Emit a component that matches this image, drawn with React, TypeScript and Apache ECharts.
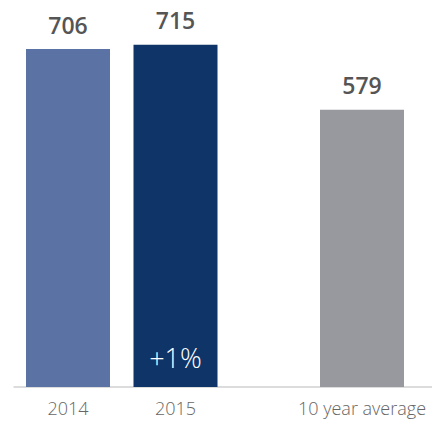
import React, { useEffect, useRef } from "react";
import * as echarts from "echarts";

const categories = ["2014", "2015", "10 year average"];
const values = [706, 715, 579];
const changeLabels = ["", "+1%", ""];
const barColors = ["#5a73a4", "#0e3468", "#98999e"];

export default function App() {
  const ref = useRef<HTMLDivElement>(null);
  useEffect(() => {
    if (!ref.current) return;
    const chart = echarts.init(ref.current, undefined, { renderer: "svg" });
    const font = "'Open Sans', 'Noto Sans', sans-serif";
    const leftCats = [categories[0], categories[1], ""];
    const leftVals = [values[0], values[1], "-"];
    const leftChange = [
      changeLabels[0] ? values[0] : "-",
      changeLabels[1] ? values[1] : "-",
      "-",
    ];
    const axisCommon = {
      type: "category" as const,
      axisLine: { lineStyle: { color: "#dcdcdc", width: 2 } },
      axisTick: { show: false },
      axisLabel: {
        color: "#666",
        fontSize: 18,
        fontWeight: 300,
        fontFamily: font,
        margin: 12,
      },
    };
    const yCommon = {
      type: "value" as const,
      min: 0,
      max: 800,
      show: false,
      splitLine: { show: false },
    };
    const topLabel = {
      show: true,
      position: "top" as const,
      distance: 13,
      color: "#555",
      fontSize: 23,
      fontWeight: 600,
      fontFamily: font,
    };
    chart.setOption({
      animation: false,
      grid: [
        { left: 14.25, width: 322.5, top: 4, bottom: 37 },
        { left: 292, right: 0, top: 4, bottom: 37 },
      ],
      xAxis: [
        { ...axisCommon, gridIndex: 0, data: leftCats },
        { ...axisCommon, gridIndex: 1, data: [categories[2]] },
      ],
      yAxis: [
        { ...yCommon, gridIndex: 0 },
        { ...yCommon, gridIndex: 1 },
      ],
      series: [
        {
          type: "bar",
          xAxisIndex: 0,
          yAxisIndex: 0,
          barWidth: 84,
          data: leftVals.map((v, i) => ({
            value: v,
            itemStyle: { color: barColors[i] },
          })),
          label: topLabel,
        },
        {
          type: "bar",
          xAxisIndex: 0,
          yAxisIndex: 0,
          barWidth: 84,
          barGap: "-100%",
          silent: true,
          data: leftChange,
          itemStyle: { color: "rgba(0,0,0,0)" },
          label: {
            show: true,
            position: "insideBottom",
            distance: 16,
            color: "#fff",
            fontSize: 27,
            fontWeight: 300,
            fontFamily: font,
            formatter: (p: any) => changeLabels[p.dataIndex] || "",
          },
        },
        {
          type: "bar",
          xAxisIndex: 1,
          yAxisIndex: 1,
          barWidth: 84,
          data: [{ value: values[2], itemStyle: { color: barColors[2] } }],
          label: topLabel,
        },
      ],
    });
    return () => chart.dispose();
  }, []);
  return <div ref={ref} style={{ width: 432, height: 424, position: "absolute", left: 0, top: 0 }} />;
}
